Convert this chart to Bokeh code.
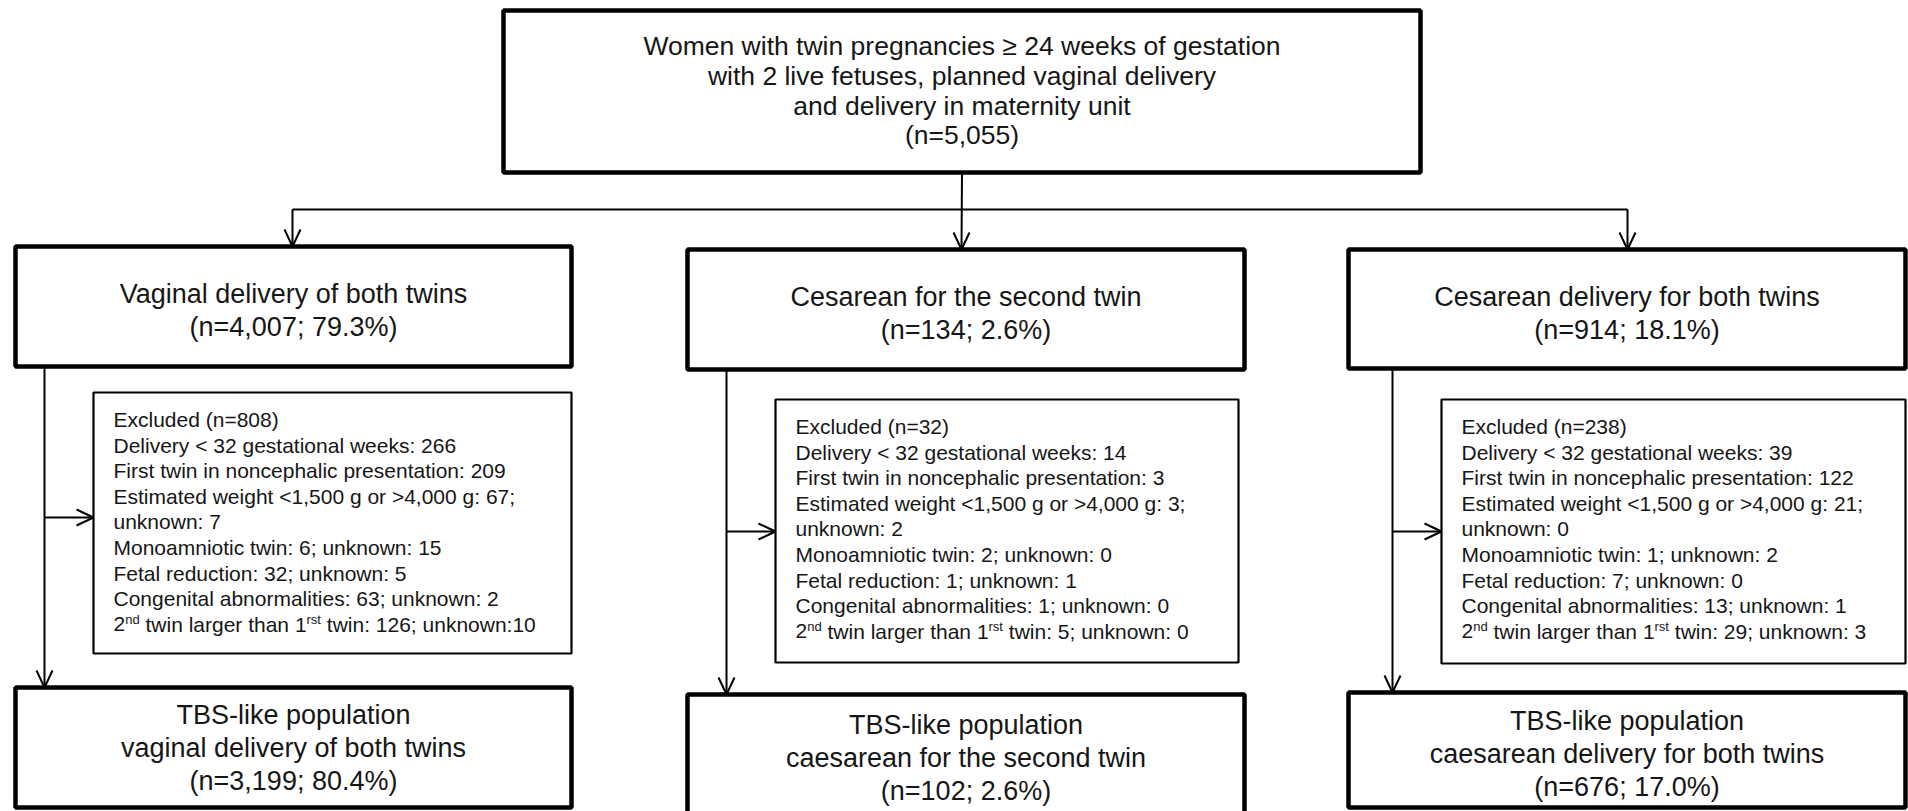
from bokeh.plotting import figure
from bokeh.models import Range1d, ColumnDataSource
from bokeh.core.properties import value
from bokeh.embed import file_html
from bokeh.resources import INLINE

# ---------------- data ----------------
top_lines = ["Women with twin pregnancies \u2265 24 weeks of gestation",
             "with 2 live fetuses, planned vaginal delivery",
             "and delivery in maternity unit",
             "(n=5,055)"]
group_names = ["Vaginal delivery of both twins", "Cesarean for the second twin",
               "Cesarean delivery for both twins"]
group_n = ["4,007", "134", "914"]
group_pct = ["79.3%", "2.6%", "18.1%"]
excluded_total = [808, 32, 238]
delivery_lt32 = [266, 14, 39]
first_noncephalic = [209, 3, 122]
weight_out = [67, 3, 21]
weight_unknown = [7, 2, 0]
monoamniotic = [6, 2, 1]
monoamniotic_unknown = [15, 0, 2]
fetal_reduction = [32, 1, 7]
fetal_reduction_unknown = [5, 1, 0]
congenital = [63, 1, 13]
congenital_unknown = [2, 0, 1]
second_larger = [126, 5, 29]
second_larger_unknown = [10, 0, 3]
final_names = ["vaginal delivery of both twins", "caesarean for the second twin",
               "caesarean delivery for both twins"]
final_n = ["3,199", "102", "676"]
final_pct = ["80.4%", "2.6%", "17.0%"]

# ---------------- layout (page pixels) ----------------
W, H = 1908, 811
TOP_L, TOP_R, TOP_T, TOP_B = 503, 1420, 10, 172
grp_l = [15, 687, 1348]
grp_r = [571, 1244, 1905]
grp_t = [246, 249, 249]
grp_b = [366, 369, 368]
exc_l = [93, 775, 1441]
exc_r = [571, 1238, 1905]
exc_t = [392, 399, 399]
exc_b = [653, 662, 663]
fin_t = [687, 694, 692]
fin_b = [807, 830, 807]
fin_pad = [27, 30, 28]
stem_x = [44, 726, 1392]
side_y = [517, 531, 531]
arrow_x = [292, 961, 1627]
branch_y = 209
top_cx = (TOP_L + TOP_R) / 2

FONT = value("Liberation Sans")
TXT = "#161616"
TOP_FS = 26.5
MAIN_FS = 27
EXC_FS = 21
SUP_FS = 13.0
EXC_LH = 25.6

ARIAL = {' ': 278, '(': 333, ')': 333, ',': 278, '-': 333, '.': 278, ':': 278, ';': 278,
         '<': 584, '=': 584, '>': 584, '%': 889,
         'a': 556, 'b': 556, 'c': 500, 'd': 556, 'e': 556, 'f': 278, 'g': 556, 'h': 556,
         'i': 222, 'j': 222, 'k': 500, 'l': 222, 'm': 833, 'n': 556, 'o': 556, 'p': 556,
         'q': 556, 'r': 333, 's': 500, 't': 278, 'u': 556, 'v': 500, 'w': 722, 'x': 500,
         'y': 500, 'z': 500}
for d in "0123456789":
    ARIAL[d] = 556


def tw(s, size):
    return sum(ARIAL.get(c, 556) for c in s) / 1000.0 * size


p = figure(width=W, height=H, x_range=Range1d(0, W), y_range=Range1d(H, 0),
           output_backend="svg", toolbar_location=None, min_border=0,
           x_axis_type=None, y_axis_type=None)
p.outline_line_color = None
p.background_fill_color = "white"
p.border_fill_color = "white"
p.grid.visible = False

# ---------------- connectors ----------------
sx0, sy0, sx1, sy1 = [], [], [], []


def seg(a, b, c, d):
    sx0.append(a); sy0.append(b); sx1.append(c); sy1.append(d)


seg(top_cx, TOP_B, arrow_x[1], grp_t[1])
seg(arrow_x[0], branch_y, arrow_x[2], branch_y)
seg(arrow_x[0], branch_y, arrow_x[0], grp_t[0])
seg(arrow_x[2], branch_y, arrow_x[2], grp_t[2])
for i in range(3):
    seg(stem_x[i], grp_b[i], stem_x[i], fin_t[i])
    seg(stem_x[i], side_y[i], exc_l[i], side_y[i])
p.segment(x0=sx0, y0=sy0, x1=sx1, y1=sy1, line_color="black", line_width=2)

# ---------------- boxes ----------------
p.quad(left=[TOP_L] + grp_l + grp_l, right=[TOP_R] + grp_r + grp_r,
       top=[TOP_T] + grp_t + fin_t, bottom=[TOP_B] + grp_b + fin_b,
       fill_color="white", line_color="black", line_width=4.5)
p.quad(left=exc_l, right=exc_r, top=exc_t, bottom=exc_b,
       fill_color="white", line_color="black", line_width=2.2)

# ---------------- arrow heads (open chevrons) ----------------
AH, AW = 17, 8
hx, hy = [], []
tips_down = [(arrow_x[i], grp_t[i]) for i in range(3)] + [(stem_x[i], fin_t[i]) for i in range(3)]
for (x, y) in tips_down:
    hx.append([x - AW, x, x + AW]); hy.append([y - AH, y, y - AH])
for i in range(3):
    x, y = exc_l[i], side_y[i]
    hx.append([x - AH, x, x - AH]); hy.append([y - AW, y, y + AW])
p.multi_line(xs=hx, ys=hy, line_color="black", line_width=2)

# ---------------- texts ----------------
def centered(xs, ys, texts, fs):
    p.text(x=xs, y=ys, text=texts, text_align="center", text_baseline="middle",
           text_font=FONT, text_font_size=f"{fs}px", text_color=TXT)


top_y = [45, 75, 105, 134]
centered([top_cx] * 4, top_y, top_lines, TOP_FS)

gx, gy, gt = [], [], []
fx, fy, ft = [], [], []
for i in range(3):
    cx = (grp_l[i] + grp_r[i]) / 2
    gx += [cx, cx]; gy += [grp_t[i] + 47, grp_t[i] + 80]
    gt += [group_names[i], f"(n={group_n[i]}; {group_pct[i]})"]
    fx += [cx] * 3; fy += [fin_t[i] + fin_pad[i] + 33 * k for k in range(3)]
    ft += ["TBS-like population", final_names[i], f"(n={final_n[i]}; {final_pct[i]})"]
centered(gx, gy, gt, MAIN_FS)
centered(fx, fy, ft, MAIN_FS)

ex, ey, et = [], [], []
sup_x, sup_y, sup_t, sup_off = [], [], [], []
nx, ny, nt, noff = [], [], [], []
for i in range(3):
    x0 = exc_l[i] + 20
    y0 = exc_t[i] + 27
    lines = [
        f"Excluded  (n={excluded_total[i]})",
        f"Delivery < 32 gestational  weeks: {delivery_lt32[i]}",
        f"First twin in noncephalic presentation: {first_noncephalic[i]}",
        f"Estimated weight <1,500 g or >4,000 g: {weight_out[i]};",
        f"unknown: {weight_unknown[i]}",
        f"Monoamniotic twin: {monoamniotic[i]}; unknown: {monoamniotic_unknown[i]}",
        f"Fetal reduction: {fetal_reduction[i]}; unknown: {fetal_reduction_unknown[i]}",
        f"Congenital abnormalities: {congenital[i]}; unknown: {congenital_unknown[i]}",
    ]
    for k, s in enumerate(lines):
        ex.append(x0); ey.append(y0 + k * EXC_LH); et.append(s)
    yl = y0 + 8 * EXC_LH
    sep = ":" if second_larger_unknown[i] >= 10 else ": "
    # (text, superscript?, trailing space)
    parts = [("2", False, False), ("nd", True, True), ("twin larger than 1", False, False),
             ("rst", True, True),
             (f"twin: {second_larger[i]}; unknown{sep}{second_larger_unknown[i]}", False, False)]
    off = 0.0
    for s, sup, trail in parts:
        if sup:
            sup_x.append(x0); sup_y.append(yl); sup_t.append(s); sup_off.append(off)
            off += tw(s, SUP_FS)
        else:
            nx.append(x0); ny.append(yl); nt.append(s); noff.append(off)
            off += tw(s, EXC_FS)
        if trail:
            off += tw(" ", EXC_FS)

p.text(x=ex, y=ey, text=et, text_align="left", text_baseline="middle",
       text_font=FONT, text_font_size=f"{EXC_FS}px", text_color=TXT)
p.text(source=ColumnDataSource(dict(x=nx, y=ny, t=nt, o=noff)), x="x", y="y", text="t",
       x_offset="o", text_align="left", text_baseline="middle",
       text_font=FONT, text_font_size=f"{EXC_FS}px", text_color=TXT)
p.text(source=ColumnDataSource(dict(x=sup_x, y=sup_y, t=sup_t, o=sup_off)), x="x", y="y", text="t",
       x_offset="o", y_offset=-5, text_align="left", text_baseline="middle",
       text_font=FONT, text_font_size=f"{SUP_FS}px", text_color=TXT)

open("out.html", "w").write(file_html(p, INLINE))
